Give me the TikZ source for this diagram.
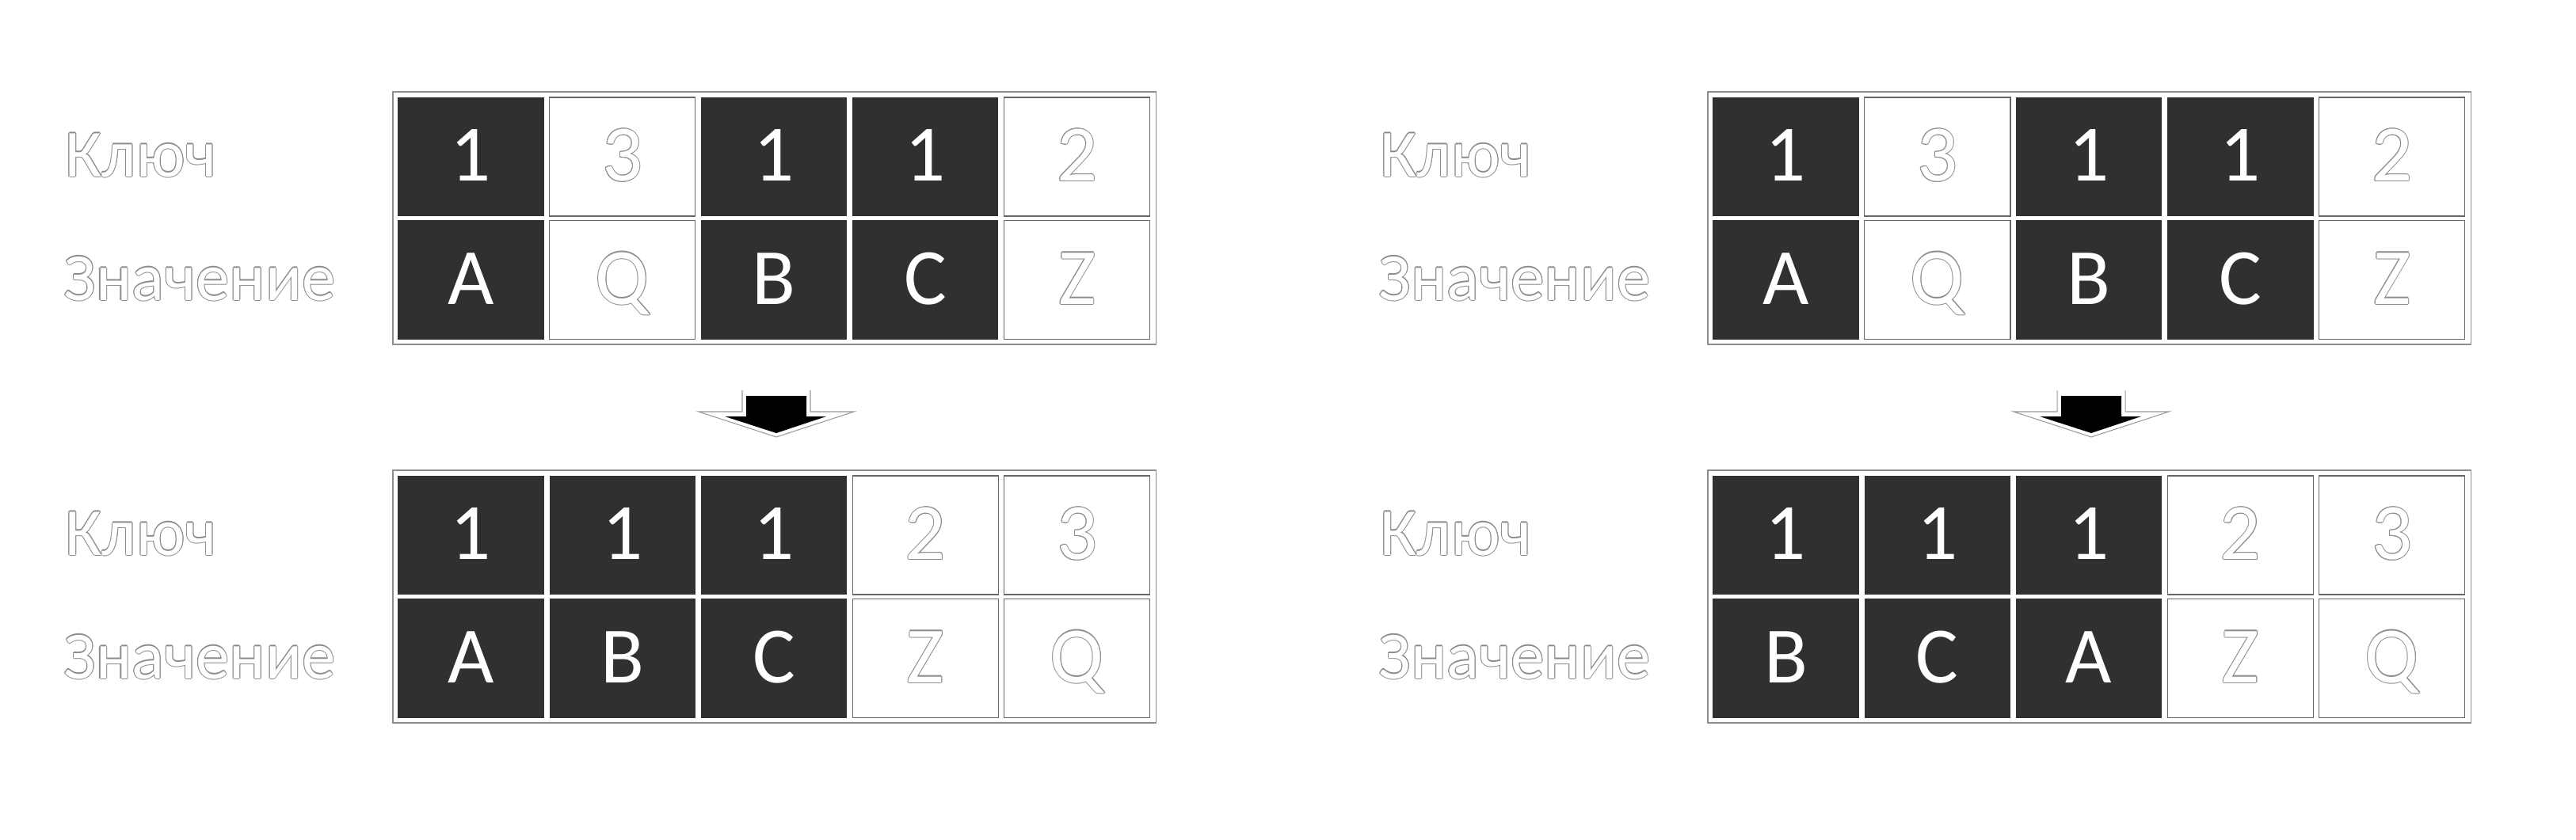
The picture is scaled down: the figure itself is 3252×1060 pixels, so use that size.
\documentclass[tikz,border=0pt]{standalone}
\usepackage{fontspec}
\setmainfont{Carlito}
\definecolor{cellgray}{HTML}{303030}
\definecolor{olc}{gray}{0.55}
\newsavebox\olboxg
\newsavebox\olboxw
\newlength\olw
\setlength\olw{0.3pt}
\newcommand\olcopy[2]{\makebox[0pt][l]{\hspace*{#1}\raisebox{#2}{\usebox\olboxg}}}
\newcommand\olt[1]{{\sbox\olboxg{\color{olc}#1}\sbox\olboxw{\color{white}#1}%
  \olcopy{\olw}{0pt}\olcopy{-\olw}{0pt}\olcopy{0pt}{\olw}\olcopy{0pt}{-\olw}%
  \olcopy{0.7\olw}{0.7\olw}\olcopy{-0.7\olw}{0.7\olw}\olcopy{0.7\olw}{-0.7\olw}\olcopy{-0.7\olw}{-0.7\olw}%
  \usebox\olboxw}}
\tikzset{
  frame/.style={draw=black!45, line width=0.45pt, fill=white, minimum width=9.63cm, minimum height=3.19cm, inner sep=0pt},
  dcell/.style={fill=cellgray, draw=none, text=white},
  lcell/.style={fill=white, draw=black!60, line width=0.35pt},
  cellbase/.style={minimum width=1.84cm, minimum height=1.50cm, inner sep=0pt, text height=0.61cm, text depth=0cm,
    font=\fontsize{28.7}{34}\selectfont},
  cellstyle/.code={\ifnum#1=1 \pgfkeysalso{dcell}\else\pgfkeysalso{lcell}\fi},
  lbl/.style={anchor=base west, inner sep=0pt, font=\fontsize{24.2}{29}\selectfont},
  arrowouter/.style={fill=white, draw=none},
  arrowline/.style={draw=black!40, line width=0.3pt},
  arrowinner/.style={fill=black, draw=none}
}
\newcommand\drawtable[4]{%
  \begin{scope}[shift={(#1,#2)}]
    \node[frame] (#3f) at (977.5,275.5) {};
    \foreach \k/\v/\t [count=\i from 0] in {#4} {
      \node[cellbase, cellstyle=\t] (#3k\i) at ({594.5+191.3*\i},198) {\ifnum\t=1 \k\else\olt{\k}\fi};
      \node[cellbase, cellstyle=\t] (#3v\i) at ({594.5+191.3*\i},353.5) {\ifnum\t=1 \v\else\olt{\v}\fi};
    }
    \node[lbl] (#3lk) at (82,223) {\olt{Ключ}};
    \node[lbl] (#3lv) at (80,379) {\olt{Значение}};
  \end{scope}}
\newcommand\drawarrow[2]{%
  \begin{scope}[shift={(#1,0)}]
    \coordinate (#2) at (980,520);
    \fill[arrowouter] (937,493) -- (937,520) -- (882,520) -- (980,552) -- (1078,520) -- (1023,520) -- (1023,493) -- cycle;
    \draw[arrowline] (937,493) -- (937,520) -- (882,520) -- (980,552) -- (1078,520) -- (1023,520) -- (1023,493);
    \fill[arrowinner] (942,500) -- (1018,500) -- (1018,526) -- (1043,526) -- (980,547) -- (915,526) -- (942,526) -- cycle;
  \end{scope}}
\begin{document}
\begin{tikzpicture}[x=0.01cm, y=-0.01cm]
  \useasboundingbox[fill=white] (0,0) rectangle (3252,1060);
  \drawtable{0}{0}{A}{1/A/1, 3/Q/0, 1/B/1, 1/C/1, 2/Z/0}
  \drawtable{0}{478}{B}{1/A/1, 1/B/1, 1/C/1, 2/Z/0, 3/Q/0}
  \drawtable{1660}{0}{C}{1/A/1, 3/Q/0, 1/B/1, 1/C/1, 2/Z/0}
  \drawtable{1660}{478}{D}{1/B/1, 1/C/1, 1/A/1, 2/Z/0, 3/Q/0}
  \drawarrow{0}{arrL}
  \drawarrow{1660}{arrR}
\end{tikzpicture}
\end{document}
